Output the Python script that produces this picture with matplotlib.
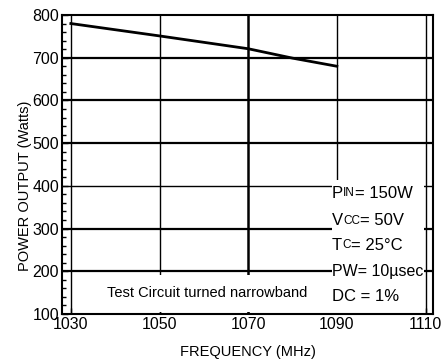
import numpy as np
import matplotlib
matplotlib.use("Agg")
import matplotlib.pyplot as plt
from matplotlib import transforms
from matplotlib.patches import Rectangle

plt.rcParams['font.family'] = ['Liberation Sans', 'DejaVu Sans']

# data
freq = [1030, 1050, 1070, 1080, 1090]
power = [780, 751, 721, 699, 680]

x_ticks = [1030, 1050, 1070, 1090, 1110]
y_ticks = [100, 200, 300, 400, 500, 600, 700, 800]

cond_lines = [
    [("P", 12), ("IN", 8.5), ("= 150W", 12)],
    [("V", 12), ("CC", 8.5), ("= 50V", 12)],
    [("T", 12), ("C", 8.5), ("= 25°C", 12)],
    [("PW= 10µsec", 11.5)],
    [("DC = 1%", 12)],
]
cond_y = [383, 318, 261, 200, 142]


def put_parts(ax, x, y, parts):
    fig = ax.figure
    r = fig.canvas.get_renderer()
    dx = 0
    for s, size in parts:
        tr = transforms.offset_copy(ax.transData, fig=fig, x=dx, y=0, units='dots')
        txt = ax.text(x, y, s, fontsize=size, transform=tr, va='center',
                      ha='left', zorder=6)
        ext = txt.get_window_extent(renderer=r)
        dx += ext.width


fig = plt.figure(figsize=(4.46, 3.64), dpi=100)
ax = fig.add_axes([0.139, 0.1374, 0.832, 0.8214])

ax.set_xlim(1028, 1111.7)
ax.set_ylim(100, 800)

# grid lines
for xv in x_ticks:
    lw = 1.8 if xv == 1070 else 1.0
    ax.axvline(xv, color='k', lw=lw, zorder=1)
for yv in y_ticks[1:-1]:
    lw = 1.0 if yv == 400 else 1.6
    ax.axhline(yv, color='k', lw=lw, zorder=1)

ax.plot(freq, power, color='k', lw=2.0, zorder=3)

# white boxes behind the text
ax.add_patch(Rectangle((1088.9, 100), 20.8, 314, facecolor='white',
                       edgecolor='none', zorder=4))
ax.add_patch(Rectangle((1039.9, 104), 41.7, 87, facecolor='white',
                       edgecolor='none', zorder=4))

ax.text(1060.7, 149, "Test Circuit turned narrowband", fontsize=10.5,
        ha='center', va='center', zorder=6)

for parts, yv in zip(cond_lines, cond_y):
    put_parts(ax, 1088.9, yv, parts)

ax.set_xticks(x_ticks)
ax.set_yticks(y_ticks)
ax.set_yticks(np.arange(100, 801, 20), minor=True)
ax.tick_params(axis='both', which='major', direction='in', labelsize=11.5, pad=2,
               length=4, width=1)
ax.tick_params(axis='y', which='minor', direction='in', length=3, width=1)
for sp in ax.spines.values():
    sp.set_linewidth(1.5)
    sp.set_zorder(7)

ax.set_xlabel("FREQUENCY (MHz)", fontsize=10.5)
ax.xaxis.set_label_coords(0.50, -0.104)
ax.set_ylabel("POWER OUTPUT (Watts)", fontsize=10.5)
ax.yaxis.set_label_coords(-0.081, 0.43)

fig.savefig("out.png", dpi=100)
